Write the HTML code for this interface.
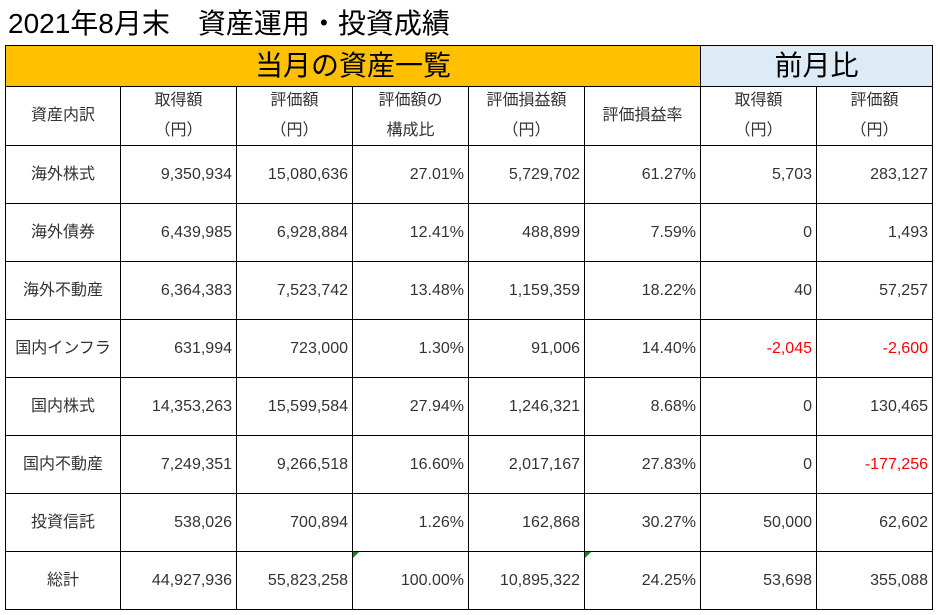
<!DOCTYPE html>
<html><head><meta charset="utf-8"><style>
body{margin:0;width:940px;height:615px;background:#fff;position:relative;overflow:hidden;font-family:"Liberation Sans","Noto Sans CJK JP",sans-serif;color:#333}
.c{position:absolute;box-sizing:border-box;border:1px solid #000;display:flex;align-items:center;font-size:16px}
.r{justify-content:flex-end;padding-right:4px}
.m{justify-content:center;text-align:center;line-height:30px}
.neg{color:#f00}
.tri{position:absolute;width:0;height:0;border-top:6px solid #1a7f1a;border-right:6px solid transparent}
</style></head><body>
<div style="position:absolute;left:8px;top:2px;font-size:28px;color:#000">2021年8月末　資産運用・投資成績</div>
<div class="c m" style="left:5px;top:45px;width:696px;height:42px;background:#ffc000;font-size:28px;color:#000">当月の資産一覧</div>
<div class="c m" style="left:700px;top:45px;width:233px;height:42px;background:#ddebf7;font-size:28px;color:#000">前月比</div>
<div id="grid"></div>
<script>
const cols=[5,120,236,352,468,584,700,816,932];
const rowsY=[86,145,203,261,319,377,435,493,551,609];
const headers=["資産内訳","取得額<br>（円）","評価額<br>（円）","評価額の<br>構成比","評価損益額<br>（円）","評価損益率","取得額<br>（円）","評価額<br>（円）"];
const categories=["海外株式","海外債券","海外不動産","国内インフラ","国内株式","国内不動産","投資信託","総計"];
const cost=["9,350,934","6,439,985","6,364,383","631,994","14,353,263","7,249,351","538,026","44,927,936"];
const value=["15,080,636","6,928,884","7,523,742","723,000","15,599,584","9,266,518","700,894","55,823,258"];
const share=["27.01%","12.41%","13.48%","1.30%","27.94%","16.60%","1.26%","100.00%"];
const gain=["5,729,702","488,899","1,159,359","91,006","1,246,321","2,017,167","162,868","10,895,322"];
const gainRate=["61.27%","7.59%","18.22%","14.40%","8.68%","27.83%","30.27%","24.25%"];
const costDiff=["5,703","0","40","-2,045","0","0","50,000","53,698"];
const valueDiff=["283,127","1,493","57,257","-2,600","130,465","-177,256","62,602","355,088"];
const g=document.getElementById('grid');
function cell(i,r,html,cls,name){
  const d=document.createElement('div');
  d.className='c '+cls;
  d.style.left=cols[i]+'px';d.style.top=rowsY[r]+'px';
  d.style.width=(cols[i+1]-cols[i]+1)+'px';d.style.height=(rowsY[r+1]-rowsY[r]+1)+'px';
  d.innerHTML=html;
  
  
  g.appendChild(d);
}
headers.forEach((h,i)=>cell(i,0,h,'m','column-header'));
categories.forEach((c,k)=>{
  const r=k+1;
  cell(0,r,c,'m','category-label');
  const vals=[cost[k],value[k],share[k],gain[k],gainRate[k],costDiff[k],valueDiff[k]];
  vals.forEach((v,j)=>cell(j+1,r,v,'r'+(v.startsWith('-')?' neg':''),'value-cell'));
});
[3,5].forEach(i=>{
  const t=document.createElement('div');
  t.className='tri';t.style.left=(cols[i]+1)+'px';t.style.top=(rowsY[8]+1)+'px';
  
  
  g.appendChild(t);
});
</script>
</body></html>
